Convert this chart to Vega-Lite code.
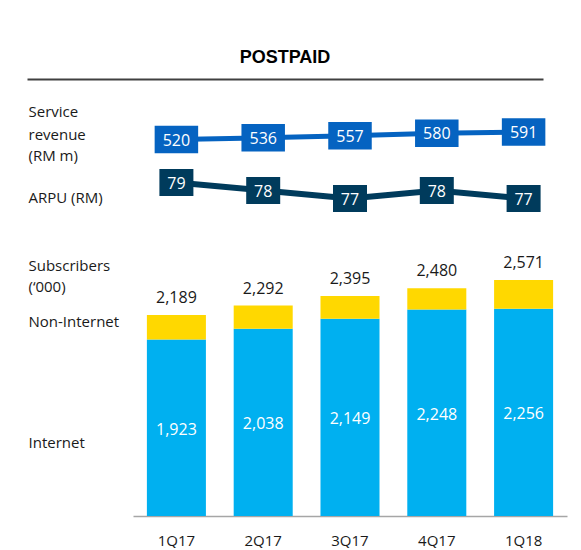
{
  "$schema": "https://vega.github.io/schema/vega-lite/v6.json",
  "background": "white",
  "padding": {"left": 27, "top": 49, "right": 10, "bottom": 0},
  "config": {"view": {"stroke": null}, "font": "Open Sans"},
  "datasets": {
    "subs": [
      {"quarter": "1Q17", "segment": "Internet", "value": 1923},
      {"quarter": "1Q17", "segment": "Non-Internet", "value": 266},
      {"quarter": "2Q17", "segment": "Internet", "value": 2038},
      {"quarter": "2Q17", "segment": "Non-Internet", "value": 254},
      {"quarter": "3Q17", "segment": "Internet", "value": 2149},
      {"quarter": "3Q17", "segment": "Non-Internet", "value": 246},
      {"quarter": "4Q17", "segment": "Internet", "value": 2248},
      {"quarter": "4Q17", "segment": "Non-Internet", "value": 232},
      {"quarter": "1Q18", "segment": "Internet", "value": 2256},
      {"quarter": "1Q18", "segment": "Non-Internet", "value": 315}
    ],
    "kpi": [
      {"quarter": "1Q17", "revenue": 520, "arpu": 79},
      {"quarter": "2Q17", "revenue": 536, "arpu": 78},
      {"quarter": "3Q17", "revenue": 557, "arpu": 77},
      {"quarter": "4Q17", "revenue": 580, "arpu": 78},
      {"quarter": "1Q18", "revenue": 591, "arpu": 77}
    ]
  },
  "spacing": 20,
  "vconcat": [
    {
      "data": {"name": "kpi"},
      "width": 516,
      "height": 1,
      "title": {"text": "POSTPAID", "font": "Liberation Sans", "fontSize": 18, "fontWeight": "bold", "color": "#000000", "anchor": "middle", "offset": 11},
      "mark": {"type": "point", "size": 0, "opacity": 0},
      "encoding": {
        "x": {"field": "quarter", "type": "nominal", "sort": null,
          "axis": {"orient": "bottom", "labels": false, "ticks": false, "domain": true, "domainColor": "#404040", "domainWidth": 2, "title": null, "grid": false}}
      }
    },
    {
      "spacing": 0,
      "hconcat": [
        {
          "data": {"name": "subs"},
          "width": 1,
          "height": 417,
          "mark": {"type": "point", "size": 0, "opacity": 0},
          "encoding": {
            "y": {"field": "value", "type": "quantitative",
              "scale": {"domain": [0, 4541], "nice": false, "zero": false},
              "axis": {"orient": "right", "title": null, "grid": false, "domain": false, "ticks": false, "tickSize": 0,
                "values": [795, 2118, 2499, 2728, 3463, 3926, 4155, 4400],
                "labelExpr": "datum.value == 795 ? 'Internet' : datum.value == 2118 ? 'Non-Internet' : datum.value == 2499 ? '(‘000)' : datum.value == 2728 ? 'Subscribers' : datum.value == 3463 ? 'ARPU (RM)' : datum.value == 3926 ? '(RM m)' : datum.value == 4155 ? 'revenue' : 'Service'",
                "labelAlign": "left", "labelBaseline": "middle", "labelPadding": 0, "labelFont": "Open Sans", "labelFontSize": 15, "labelColor": "#1a1a1a", "labelOverlap": false, "labelFlush": false, "labelBound": false,
                "minExtent": 105, "maxExtent": 105}}
          }
        },
        {
          "width": 434,
          "height": 417,
          "encoding": {
            "x": {"field": "quarter", "type": "nominal",
              "scale": {"type": "band", "domain": ["1Q17", "2Q17", "3Q17", "4Q17", "1Q18"], "paddingInner": 0.32, "paddingOuter": 0.16},
              "axis": {"orient": "bottom", "title": null, "ticks": false, "grid": false, "domainColor": "#A6A6A6", "domainWidth": 1.5, "labelAngle": 0, "labelFont": "Open Sans", "labelFontSize": 15, "labelColor": "#1a1a1a", "labelPadding": 17}}
          },
          "layer": [
            {
              "data": {"name": "subs"},
              "mark": {"type": "bar"},
              "encoding": {
                "y": {"field": "value", "type": "quantitative", "stack": "zero",
                  "scale": {"domain": [0, 4541], "nice": false, "zero": false}, "axis": null},
                "color": {"field": "segment", "type": "nominal",
                  "scale": {"domain": ["Internet", "Non-Internet"], "range": ["#00B0F0", "#FFD800"]},
                  "legend": null},
                "order": {"field": "segment", "sort": "ascending"}
              }
            },
            {
              "data": {"name": "subs"},
              "transform": [{"filter": "datum.segment == 'Internet'"}],
              "mark": {"type": "text", "color": "#FFFFFF", "fontSize": 16, "font": "Open Sans", "baseline": "middle", "dy": 2},
              "encoding": {
                "y": {"field": "value", "type": "quantitative", "scale": {"domain": [0, 9082], "nice": false, "zero": false}, "axis": null},
                "text": {"field": "value", "type": "quantitative", "format": ","}
              }
            },
            {
              "data": {"name": "subs"},
              "mark": {"type": "text", "color": "#1a1a1a", "fontSize": 16, "font": "Open Sans", "baseline": "alphabetic", "dy": -12},
              "encoding": {
                "y": {"aggregate": "sum", "field": "value", "type": "quantitative", "scale": {"domain": [0, 4541], "nice": false, "zero": false}, "axis": null},
                "text": {"aggregate": "sum", "field": "value", "type": "quantitative", "format": ","}
              }
            },
            {
              "data": {"name": "kpi"},
              "encoding": {
                "y": {"field": "revenue", "type": "quantitative", "scale": {"domain": [-3045, 904], "nice": false, "zero": false}, "axis": null}
              },
              "layer": [
                {"mark": {"type": "line", "color": "#0563C1", "strokeWidth": 5}},
                {"mark": {"type": "point", "shape": "M-1,-0.632L1,-0.632L1,0.632L-1,0.632Z", "filled": true, "opacity": 1, "size": 1892, "color": "#0563C1"}},
                {"mark": {"type": "text", "color": "#FFFFFF", "fontSize": 16, "font": "Open Sans", "baseline": "middle", "dy": 1},
                 "encoding": {"text": {"field": "revenue", "type": "quantitative"}}}
              ]
            },
            {
              "data": {"name": "kpi"},
              "encoding": {
                "y": {"field": "arpu", "type": "quantitative", "scale": {"domain": [37.31, 89.44], "nice": false, "zero": false}, "axis": null}
              },
              "layer": [
                {"mark": {"type": "line", "color": "#003B5C", "strokeWidth": 6}},
                {"mark": {"type": "point", "shape": "M-1,-0.794L1,-0.794L1,0.794L-1,0.794Z", "filled": true, "opacity": 1, "size": 1156, "color": "#003B5C"}},
                {"mark": {"type": "text", "color": "#FFFFFF", "fontSize": 16, "font": "Open Sans", "baseline": "middle", "dy": 1},
                 "encoding": {"text": {"field": "arpu", "type": "quantitative"}}}
              ]
            }
          ],
          "resolve": {"scale": {"y": "independent"}, "axis": {"y": "independent"}}
        }
      ]
    }
  ]
}
